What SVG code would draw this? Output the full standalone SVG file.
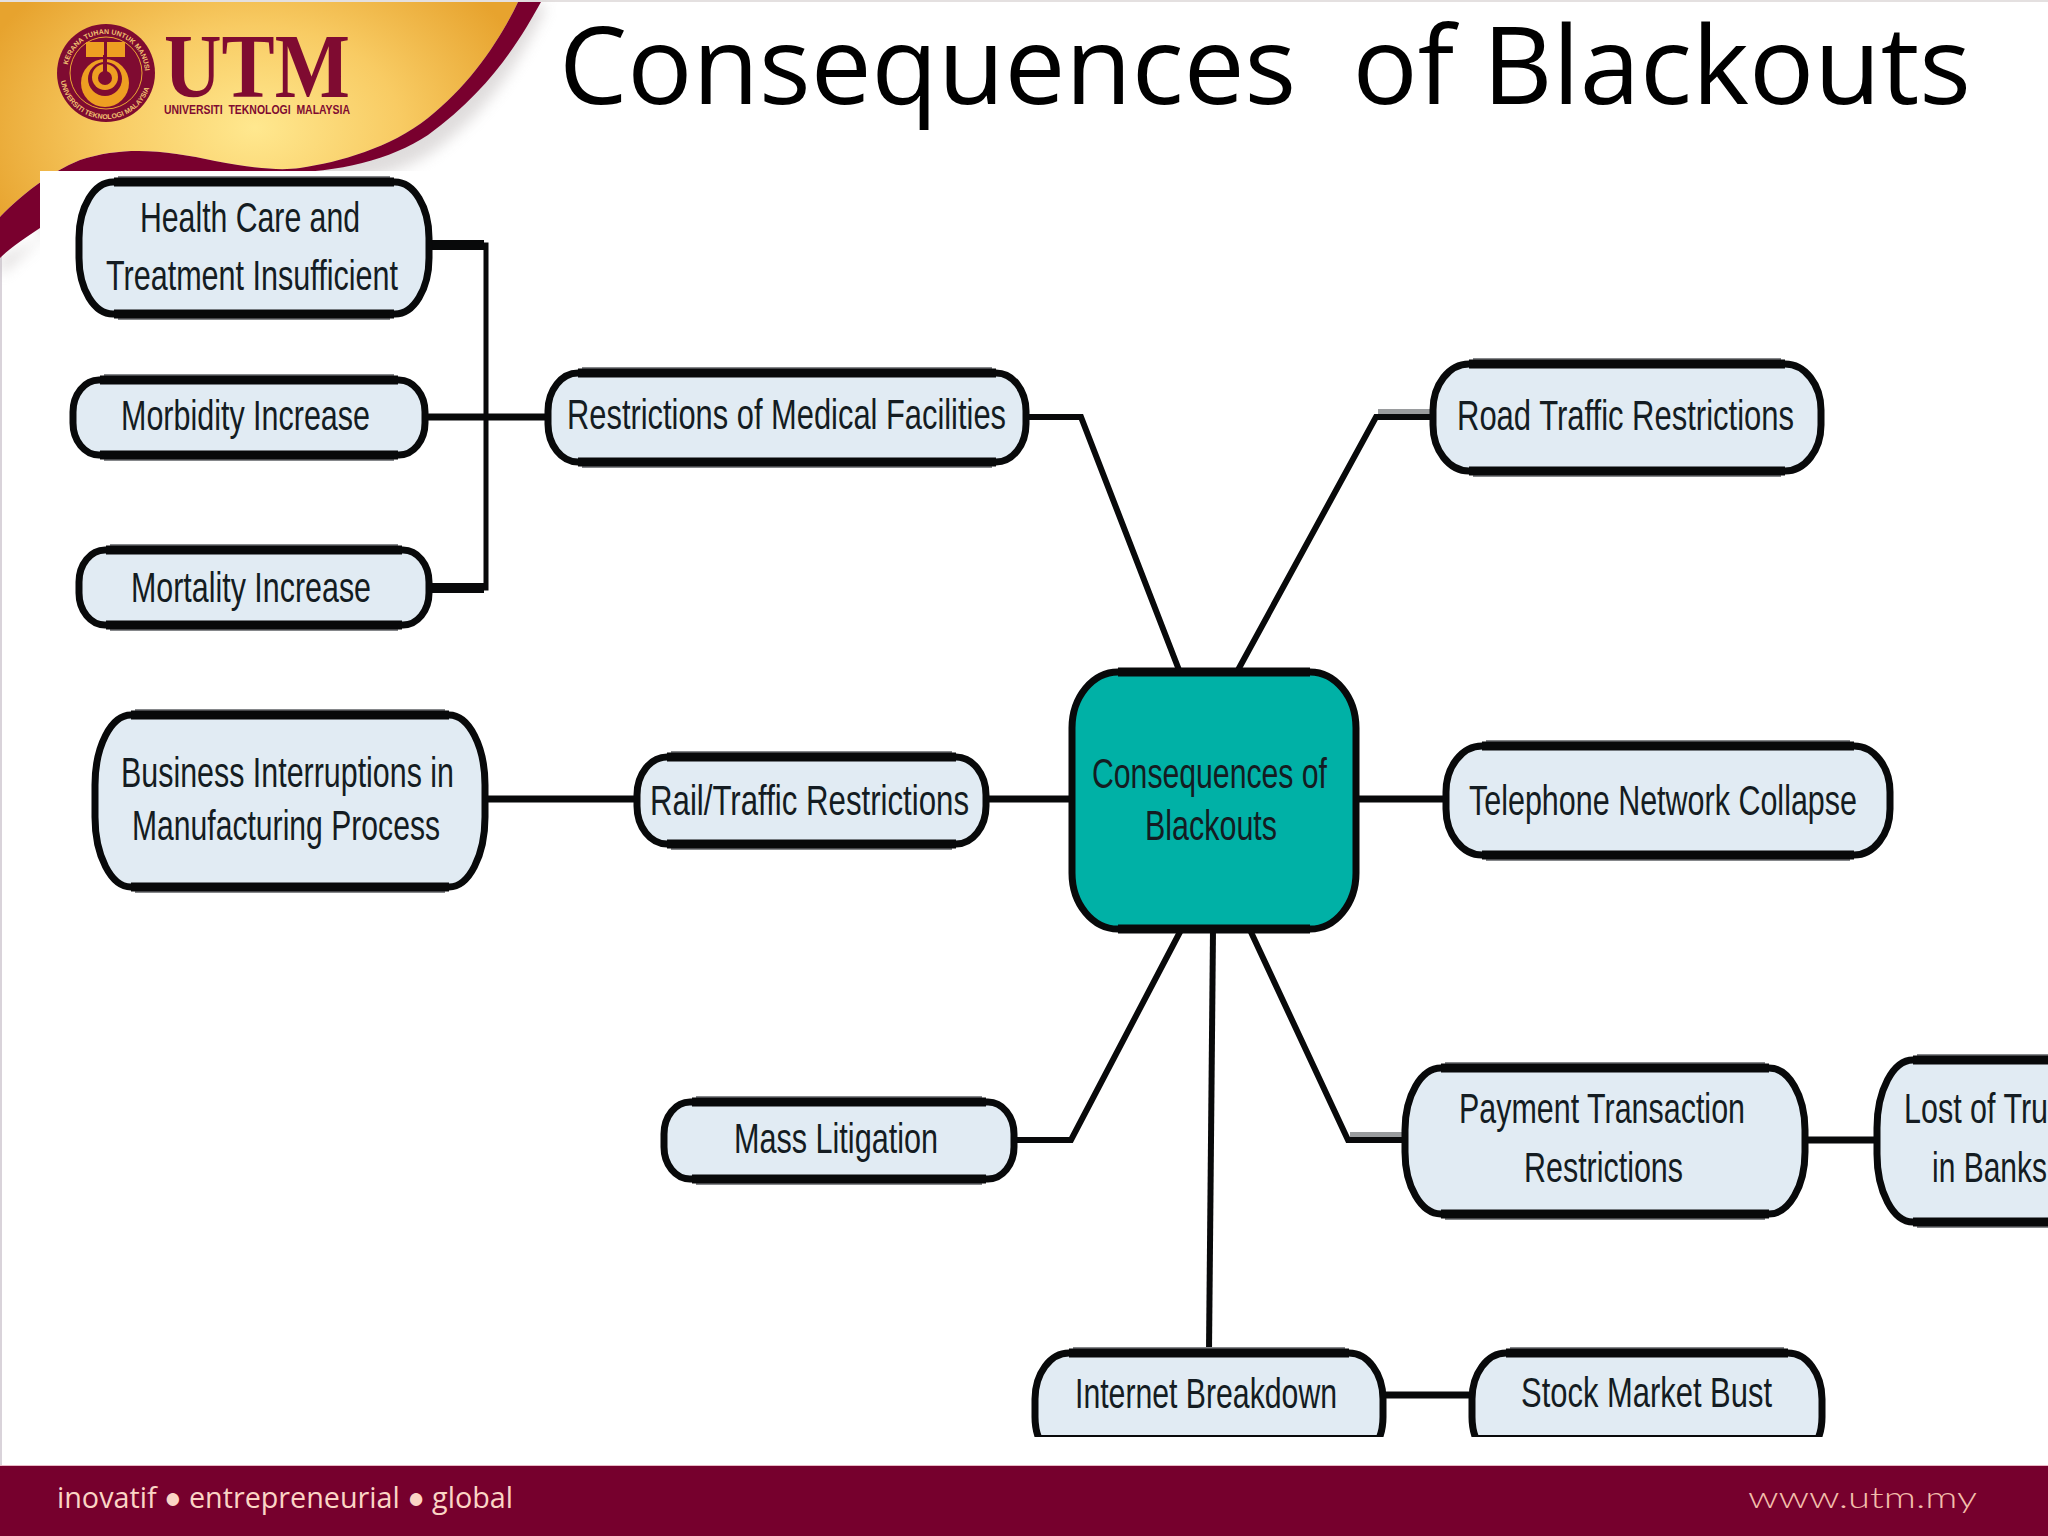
<svg xmlns="http://www.w3.org/2000/svg" width="2048" height="1536" viewBox="0 0 2048 1536">
<defs>
<radialGradient id="gold" gradientUnits="userSpaceOnUse" cx="255" cy="125" r="290" gradientTransform="translate(0 40) scale(1 .7)">
<stop offset="0" stop-color="#ffe88f"/><stop offset=".5" stop-color="#f8cb63"/><stop offset="1" stop-color="#e7a32e"/>
</radialGradient>
<filter id="soft" x="-10%" y="-10%" width="120%" height="130%"><feGaussianBlur stdDeviation="7"/></filter>
<clipPath id="cut"><rect x="0" y="0" width="2048" height="1437"/></clipPath>
<path id="ringTop" d="M67 73A39 39 0 0 1 145 73"/>
<path id="ringBot" d="M60 73A46 46 0 0 0 152 73"/>
</defs>
<style>
.sh{fill:none;stroke:#85878a;stroke-width:12}
.b{fill:none;stroke:#08090a;stroke-width:9}
.n{fill:#e1ebf3;stroke:#08090a;stroke-width:7}
.c{fill:#00b1a6;stroke:#08090a;stroke-width:7}
.t{font-family:"Liberation Sans",Arial,sans-serif;font-size:42px;fill:#141c22;text-anchor:start}
.l{fill:none;stroke:#08090a;stroke-width:6;stroke-linejoin:miter}
.l2{fill:none;stroke:#08090a;stroke-width:10}
.g{fill:none;stroke:#9a9c9e;stroke-width:8}
.ft{font-family:"Open Sans",sans-serif;fill:#fbd5c5}
.rt{font-family:"Liberation Sans",sans-serif;font-size:7px;font-weight:700;fill:#f0c070}
</style>
<rect width="2048" height="1536" fill="#ffffff"/>
<rect x="0" y="0" width="2" height="1536" fill="#d9d3da"/>
<rect x="0" y="0" width="2048" height="2" fill="#e4e0e0"/>
<g id="header">
<path d="M545 10C520 60 490 110 435 150C395 178 340 186 280 186H40V240L0 275V258L541 2Z" fill="#b9b3b3" opacity=".45" filter="url(#soft)"/>
<path d="M0 2H518C500 40 470 85 428 118C390 148 340 162 300 168C280 171 250 168 215 161C170 151 125 145 80 160C50 172 20 196 0 217Z" fill="url(#gold)"/>
<path d="M518 2H541C520 40 490 90 428 135C390 160 340 172 280 173H40V228C25 238 10 248 0 258V217C20 196 50 172 80 160C125 145 170 151 215 161C250 168 280 171 300 168C340 162 390 148 428 118C470 85 500 40 518 2Z" fill="#79002e"/>
<rect x="40" y="171" width="2008" height="1266" fill="#ffffff"/>
<g id="logo">
<circle cx="106" cy="73" r="49" fill="#7f0b31"/>
<circle cx="106" cy="73" r="36" fill="none" stroke="#e9a634" stroke-width="1"/>
<text class="rt"><textPath href="#ringTop" startOffset="8">KERANA TUHAN UNTUK MANUSIA</textPath></text>
<text class="rt"><textPath href="#ringBot" startOffset="8">UNIVERSITI TEKNOLOGI MALAYSIA</textPath></text>
<path d="M86 42H104V57H86ZM107 42H125V57H107Z" fill="#ee9f22"/>
<circle cx="105" cy="83" r="24" fill="#ee9f22"/>
<circle cx="105" cy="79" r="17" fill="#7f0b31"/>
<circle cx="105" cy="77" r="13" fill="#ee9f22"/>
<rect x="103" y="55" width="4" height="18" fill="#7f0b31"/>
<circle cx="105" cy="78" r="7" fill="#7f0b31"/>
<text x="164" y="97" font-family="Liberation Serif,serif" font-weight="700" font-size="92" fill="#7f0b31" textLength="186" lengthAdjust="spacingAndGlyphs">UTM</text>
<text x="164" y="114" font-family="Liberation Sans,sans-serif" font-weight="700" font-size="12.5" fill="#7f0b31" textLength="186" lengthAdjust="spacingAndGlyphs" style="white-space:pre">UNIVERSITI  TEKNOLOGI  MALAYSIA</text>
</g>
</g>
<text id="title" x="559" y="104" font-family="Open Sans,sans-serif" font-size="108" fill="#000" textLength="1412" lengthAdjust="spacingAndGlyphs" style="white-space:pre">Consequences  of Blackouts</text>
<g id="connectors">
<path class="l" d="M430 245H486V588H430" style="stroke-width:5"/>
<path class="l2" d="M430 245H484M430 588H484"/>
<path class="l" d="M426 417H546" style="stroke-width:7"/>
<path class="l" d="M1027 417H1081L1179 670"/>
<path class="g" d="M1431 413H1378"/>
<path class="l" d="M1431 417H1376L1238 670"/>
<path class="l" d="M1357 799H1444M987 799H1071M486 799H635" style="stroke-width:7"/>
<path class="g" d="M1404 1136H1350"/>
<path class="l" d="M1250 930L1348 1140H1404"/>
<path class="l" d="M1808 1140H1874" style="stroke-width:7"/>
<path class="l" d="M1015 1140H1071L1181 930"/>
<path class="l" d="M1213 930L1209 1350"/>
<path class="l" d="M1384 1395H1469" style="stroke-width:7"/>
</g>
<g id="health"><path class="sh" d="M118 182H390M118 314H390"/><rect class="n" x="79" y="182" width="350" height="132" rx="34" ry="56"/><path class="b" d="M114 182H394M114 314H394"/>
<text class="t" x="140" y="232" textLength="220" lengthAdjust="spacingAndGlyphs">Health Care and</text>
<text class="t" x="106" y="290" textLength="292" lengthAdjust="spacingAndGlyphs">Treatment Insufficient</text></g>
<g id="morbidity"><path class="sh" d="M104 380H394M104 455H394"/><rect class="n" x="73" y="380" width="352" height="75" rx="26" ry="32"/><path class="b" d="M100 380H398M100 455H398"/>
<text class="t" x="121" y="430" textLength="249" lengthAdjust="spacingAndGlyphs">Morbidity Increase</text></g>
<g id="mortality"><path class="sh" d="M110 550H398M110 625H398"/><rect class="n" x="79" y="550" width="350" height="75" rx="26" ry="32"/><path class="b" d="M106 550H402M106 625H402"/>
<text class="t" x="131" y="602" textLength="240" lengthAdjust="spacingAndGlyphs">Mortality Increase</text></g>
<g id="medical"><path class="sh" d="M582 373H992M582 462H992"/><rect class="n" x="548" y="373" width="478" height="89" rx="30" ry="38"/><path class="b" d="M578 373H996M578 462H996"/>
<text class="t" x="567" y="429" textLength="439" lengthAdjust="spacingAndGlyphs">Restrictions of Medical Facilities</text></g>
<g id="business"><path class="sh" d="M135 715H445M135 887H445"/><rect class="n" x="95" y="715" width="390" height="172" rx="36" ry="70"/><path class="b" d="M131 715H449M131 887H449"/>
<text class="t" x="121" y="787" textLength="333" lengthAdjust="spacingAndGlyphs">Business Interruptions in</text>
<text class="t" x="132" y="840" textLength="308" lengthAdjust="spacingAndGlyphs">Manufacturing Process</text></g>
<g id="rail"><path class="sh" d="M671 757H952M671 844H952"/><rect class="n" x="637" y="757" width="349" height="87" rx="30" ry="38"/><path class="b" d="M667 757H956M667 844H956"/>
<text class="t" x="650" y="815" textLength="319" lengthAdjust="spacingAndGlyphs">Rail/Traffic Restrictions</text></g>
<g id="center"><rect class="c" x="1072" y="672" width="284" height="257" rx="46" ry="56"/><path class="b" d="M1118 672H1310M1118 929H1310"/>
<text class="t" x="1092" y="788" textLength="235" lengthAdjust="spacingAndGlyphs">Consequences of</text>
<text class="t" x="1145" y="840" textLength="132" lengthAdjust="spacingAndGlyphs">Blackouts</text></g>
<g id="road"><path class="sh" d="M1473 364H1781M1473 471H1781"/><rect class="n" x="1433" y="364" width="388" height="107" rx="36" ry="46"/><path class="b" d="M1469 364H1785M1469 471H1785"/>
<text class="t" x="1457" y="430" textLength="337" lengthAdjust="spacingAndGlyphs">Road Traffic Restrictions</text></g>
<g id="telephone"><path class="sh" d="M1486 746H1850M1486 855H1850"/><rect class="n" x="1446" y="746" width="444" height="109" rx="36" ry="46"/><path class="b" d="M1482 746H1854M1482 855H1854"/>
<text class="t" x="1469" y="815" textLength="388" lengthAdjust="spacingAndGlyphs">Telephone Network Collapse</text></g>
<g id="payment"><path class="sh" d="M1445 1068H1765M1445 1214H1765"/><rect class="n" x="1405" y="1068" width="400" height="146" rx="36" ry="62"/><path class="b" d="M1441 1068H1769M1441 1214H1769"/>
<text class="t" x="1459" y="1123" textLength="286" lengthAdjust="spacingAndGlyphs">Payment Transaction</text>
<text class="t" x="1524" y="1182" textLength="159" lengthAdjust="spacingAndGlyphs">Restrictions</text></g>
<g id="lost"><path class="sh" d="M1917 1060H2048M1917 1222H2048"/><rect class="n" x="1877" y="1060" width="260" height="162" rx="36" ry="68"/><path class="b" d="M1913 1060H2048M1913 1222H2048"/>
<text class="t" x="1904" y="1123" textLength="144" lengthAdjust="spacingAndGlyphs">Lost of Tru</text>
<text class="t" x="1932" y="1182" textLength="115" lengthAdjust="spacingAndGlyphs">in Banks</text></g>
<g id="mass"><path class="sh" d="M696 1102H982M696 1179H982"/><rect class="n" x="664" y="1102" width="350" height="77" rx="26" ry="32"/><path class="b" d="M692 1102H986M692 1179H986"/>
<text class="t" x="734" y="1153" textLength="204" lengthAdjust="spacingAndGlyphs">Mass Litigation</text></g>
<g id="internet" clip-path="url(#cut)"><path class="sh" d="M1073 1353H1345"/><rect class="n" x="1035" y="1353" width="348" height="110" rx="34" ry="46"/><path class="b" d="M1069 1353H1349"/><path class="l" d="M1040 1436H1378" style="stroke-width:2"/>
<text class="t" x="1075" y="1408" textLength="262" lengthAdjust="spacingAndGlyphs">Internet Breakdown</text></g>
<g id="stock" clip-path="url(#cut)"><path class="sh" d="M1510 1353H1784"/><rect class="n" x="1472" y="1353" width="350" height="110" rx="34" ry="46"/><path class="b" d="M1506 1353H1788"/><path class="l" d="M1477 1436H1817" style="stroke-width:2"/>
<text class="t" x="1521" y="1407" textLength="251" lengthAdjust="spacingAndGlyphs">Stock Market Bust</text></g>
<g id="footer">
<rect x="0" y="1465" width="2048" height="71" fill="#76002d"/>
<rect x="0" y="1465" width="2048" height="1" fill="#e9b9c6"/>
<text class="ft" x="57" y="1508" font-size="30" textLength="456" lengthAdjust="spacingAndGlyphs">inovatif ● entrepreneurial ● global</text>
<text class="ft" x="1748" y="1508" font-size="30" textLength="229" lengthAdjust="spacingAndGlyphs" style="fill:#f2bdaa;font-family:'Lato',sans-serif;font-weight:300">www.utm.my</text>
</g>
</svg>
